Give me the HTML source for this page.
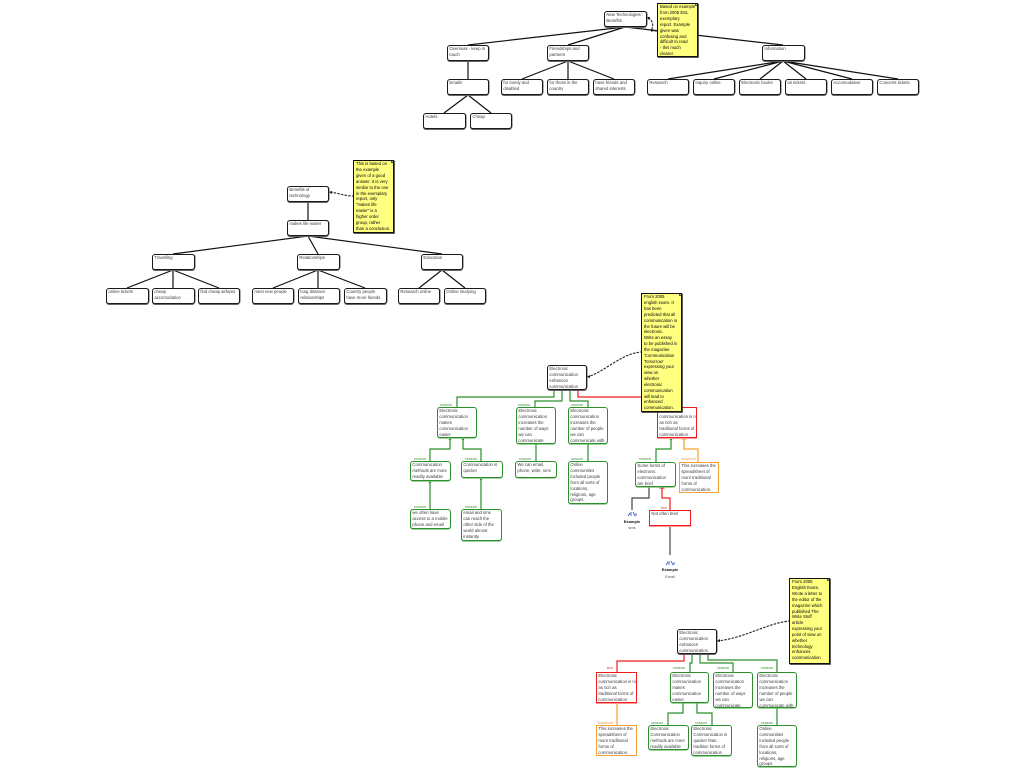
<!DOCTYPE html>
<html>
<head>
<meta charset="utf-8">
<title>Argument maps</title>
<style>
html,body{margin:0;padding:0;background:#fff;width:1024px;height:768px;overflow:hidden}
body{position:relative;font-family:"Liberation Sans",sans-serif}
svg.lines{position:absolute;left:0;top:0;z-index:1}
.n,.r,.g,.o,.y{position:absolute;box-sizing:border-box;font-size:4.25px;line-height:5.85px;color:#3a3a3a;padding:.3px 0 0 1.4px;background:#fff;white-space:nowrap;overflow:hidden;z-index:2}
.n{border:1.2px solid #1a1a1a;border-radius:3px;box-shadow:0 1px 0 #666,.6px 0 0 #777}
.g{border:1.1px solid #2b8f2b;border-radius:3px;box-shadow:0 .8px 0 #85c285}
.r{border:1.2px solid #f01c1c;box-shadow:0 1px 0 #f99}
.o{border:1.2px solid #f5a030}
.y{background:#ffff80;border:1.1px solid #111;box-shadow:.8px .8px 0 #333;padding:.3px 0 0 2px;z-index:3;color:#000;line-height:5.85px}
.y:after{content:"";position:absolute;right:-1px;top:-1px;border-style:solid;border-width:0 3px 3px 0;border-color:transparent #fff #555 transparent}
.l{position:absolute;font-size:4px;line-height:4px;z-index:2;white-space:nowrap}
.lg{color:#3a9a3a}.lr{color:#f03030}.lo{color:#f0a040}
.e{position:absolute;font-size:4px;line-height:5px;z-index:2;text-align:center;width:30px;color:#555}
b{font-weight:normal}
</style>
</head>
<body>
<svg class="lines" width="1024" height="768" viewBox="0 0 1024 768" fill="none">
<g stroke="#111" stroke-width="1.2">
<path d="M625 27L468 45M625 27L568 45M625 27L783 45M468 61V79M568 61L522 79M568 61V79M568 61L614 79M468 95L444 113M468 95L491 113"/>
<path d="M783 61L668 79M783 61L714 79M783 61L760 79M783 61L806 79M783 61L852 79M783 61L898 79"/>
<path d="M308 202V220M308 236L173 254M308 236L318 254M308 236L442 254M173 270L127 288M173 270V288M173 270L219 288M318 270L273 288M318 270V288M318 270L365 288M442 270L419 288M442 270L465 288"/>
</g>
<g stroke="#222" stroke-width="1.1" stroke-dasharray="2.5 1.2">
<path d="M648 18C653 20 654 26 651 31"/>
<path d="M657 31H651"/>
<path d="M330 192C338 193 345 196 353 196"/>
<path d="M587 377C605 372 620 354 641 352"/>
<path d="M717 641C745 638 765 624 789 621"/>
</g>
<g fill="#111">
<path d="M647 17L650 17L649 20Z"/>
<path d="M329 192L332 191L332 194Z"/>
<path d="M587 377L590 375L590 378Z"/>
<path d="M717 641L720 639L720 642Z"/>
</g>
<g stroke="#2b8f2b" stroke-width="1.2">
<path d="M554 389V397H457V407M562 389V401H535V407M570 389V401H588V407"/>
<path d="M450 438V449H430V461M463 438V449H481V461M430 481V509M481 478V509M536 443V461M588 443V461"/>
<path d="M671 438V449H656V462"/>
<path d="M692 653V663H690V672M700 653V663H733V672M708 653V660H777V672"/>
<path d="M683 702V713H668V725M697 702V713H712V725M777 707V725"/>
</g>
<g fill="#2b8f2b">
<path d="M554 389L552.500 391H555.500ZM562 389L560.500 391H563.500ZM570 389L568.500 391H571.500Z"/>
<path d="M450 438L448.500 440H451.500ZM463 438L461.500 440H464.500ZM430 481L428.500 483H431.500ZM481 478L479.500 480H482.500ZM536 443L534.500 445H537.500ZM588 443L586.500 445H589.500ZM671 438L669.500 440H672.500Z"/>
<path d="M692 653L690.500 655H693.500ZM700 653L698.500 655H701.500ZM708 653L706.500 655H709.500ZM683 702L681.500 704H684.500ZM697 702L695.500 704H698.500ZM777 707L775.500 709H778.500Z"/>
</g>
<g stroke="#f01c1c" stroke-width="1.2">
<path d="M578 389V397H677V407"/>
<path d="M662 487V498H670V510"/>
<path d="M684 653V661H617V672"/>
<path d="M575.500 390H580.500M659.500 488H664.500M681.500 654H686.500"/>
</g>
<g stroke="#f5a030" stroke-width="1.2">
<path d="M684 438V449H698V462"/>
<path d="M617 702V725"/>
<path d="M681.500 439H686.500M614.500 703H619.500"/>
</g>
<g stroke="#444" stroke-width="1.2">
<path d="M649 487V498H632V510"/>
<path d="M670 526V555"/>
</g>
<g stroke="#2346b8" stroke-width=".8">
<path d="M628 516L630 513M631 516V512M633 512L635 516M636 516V513"/>
<path d="M666 565L668 562M669 565V561M671 561L673 565M674 565V562"/>
</g>
</svg>

<div class="n" style="left:604px;top:11px;width:43px;height:16px">New Technologies :<br>Benefits</div>
<div class="y" style="left:657px;top:3px;width:41px;height:54px">Based on example<br>from 2005 ESL<br>exemplary<br>report. Example<br>given was<br>confusing and<br>difficult to read<br>- this much<br>clearer.</div>
<div class="n" style="left:447px;top:45px;width:42px;height:16px">Overseas - keep in<br>touch</div>
<div class="n" style="left:547px;top:45px;width:42px;height:16px">Friendships and<br>partners</div>
<div class="n" style="left:762px;top:45px;width:43px;height:16px">Information</div>
<div class="n" style="left:447px;top:79px;width:42px;height:16px">Emails</div>
<div class="n" style="left:501px;top:79px;width:42px;height:16px">for lonely and<br>disabled</div>
<div class="n" style="left:547px;top:79px;width:42px;height:16px">for those in the<br>country</div>
<div class="n" style="left:593px;top:79px;width:42px;height:16px">have friends and<br>shared interests</div>
<div class="n" style="left:647px;top:79px;width:42px;height:16px">Research</div>
<div class="n" style="left:693px;top:79px;width:42px;height:16px">Inquiry online</div>
<div class="n" style="left:739px;top:79px;width:42px;height:16px">Electronic books</div>
<div class="n" style="left:785px;top:79px;width:42px;height:16px">air tickets</div>
<div class="n" style="left:831px;top:79px;width:42px;height:16px">Accomodation</div>
<div class="n" style="left:877px;top:79px;width:42px;height:16px">Concerts tickets</div>
<div class="n" style="left:423px;top:113px;width:43px;height:16px">Hotels</div>
<div class="n" style="left:470px;top:113px;width:42px;height:16px">Cheap</div>

<div class="n" style="left:287px;top:186px;width:42px;height:16px">Benefits of<br>technology</div>
<div class="y" style="left:353px;top:160px;width:41px;height:73px">This is based on<br>the example<br>given of a good<br>answer. It is very<br>similar to the one<br>in the exemplary<br>report, only<br>"makes life<br>easier" is a<br>higher order<br>group, rather<br>than a conclusion.</div>
<div class="n" style="left:287px;top:220px;width:42px;height:16px">makes life easier</div>
<div class="n" style="left:152px;top:254px;width:43px;height:16px">Travelling</div>
<div class="n" style="left:297px;top:254px;width:43px;height:16px">Relationships</div>
<div class="n" style="left:421px;top:254px;width:42px;height:16px">Education</div>
<div class="n" style="left:106px;top:288px;width:43px;height:16px">online tickets</div>
<div class="n" style="left:152px;top:288px;width:43px;height:16px">cheap<br>accomodation</div>
<div class="n" style="left:198px;top:288px;width:42px;height:16px">find cheap airfares</div>
<div class="n" style="left:252px;top:288px;width:42px;height:16px">meet new people</div>
<div class="n" style="left:298px;top:288px;width:42px;height:16px">long distance<br>relationships</div>
<div class="n" style="left:344px;top:288px;width:43px;height:16px">Country people<br>have more friends</div>
<div class="n" style="left:398px;top:288px;width:42px;height:16px">Research online</div>
<div class="n" style="left:444px;top:288px;width:42px;height:16px">Online studying</div>

<div class="n" style="left:547px;top:365px;width:40px;height:25px"><b>Electronic</b><br>communication<br>enhances<br>communication</div>
<div class="y" style="left:641px;top:293px;width:41px;height:119px">From 2005<br>english exam. It<br>has been<br>predicted that all<br>communication in<br>the future will be<br>electronic.<br>Write an essay<br>to be published in<br>the magazine<br>'Communication<br>Tomorrow'<br>expressing your<br>view on<br>whether<br>electronic<br>communication<br>will lead to<br>enhanced<br>communication.</div>
<div class="l lg" style="left:440px;top:403px">reason</div>
<div class="l lg" style="left:518px;top:403px">reason</div>
<div class="l lg" style="left:571px;top:403px">reason</div>
<div class="g" style="left:437px;top:407px;width:40px;height:31px"><b>Electronic</b><br>communication<br>makes<br>communication<br>easier</div>
<div class="g" style="left:516px;top:407px;width:40px;height:37px"><b>Electronic</b><br>communication<br>increases the<br>number of ways<br>we can<br>communicate</div>
<div class="g" style="left:568px;top:407px;width:40px;height:37px"><b>Electronic</b><br>communication<br>increases the<br>number of people<br>we can<br>communicate with</div>
<div class="r" style="left:657px;top:407px;width:40px;height:31px">Electronic<br>communication is not<br>as rich as<br>traditional forms of<br>communication</div>
<div class="l lg" style="left:414px;top:457px">reason</div>
<div class="l lg" style="left:465px;top:457px">reason</div>
<div class="l lg" style="left:519px;top:457px">reason</div>
<div class="l lg" style="left:571px;top:457px">reason</div>
<div class="l lg" style="left:639px;top:457px">reason</div>
<div class="l lo" style="left:681px;top:457px">however</div>
<div class="g" style="left:410px;top:461px;width:41px;height:20px">Communication<br>methods are more<br>readily available</div>
<div class="g" style="left:461px;top:461px;width:42px;height:17px">Communication is<br>quicker</div>
<div class="g" style="left:515px;top:461px;width:42px;height:17px">We can email,<br>phone, write, sms</div>
<div class="g" style="left:568px;top:461px;width:40px;height:43px">Online<br>communities<br>included people<br>from all sorts of<br>locations,<br>religions, age<br>groups.</div>
<div class="g" style="left:635px;top:462px;width:41px;height:25px">Some forms of<br>electronic<br>communication<br>are brief</div>
<div class="o" style="left:679px;top:462px;width:40px;height:31px">This increases the<br>spreadsheet of<br>more traditional<br>forms of<br>communication.</div>
<div class="l lr" style="left:661px;top:506px">but</div>
<div class="l lg" style="left:414px;top:505px">reason</div>
<div class="l lg" style="left:465px;top:505px">reason</div>
<div class="r" style="left:649px;top:510px;width:42px;height:16px">Not often brief</div>
<div class="g" style="left:410px;top:509px;width:41px;height:20px">we often have<br>access to a mobile<br>phone and email</div>
<div class="g" style="left:461px;top:509px;width:41px;height:32px">email and sms<br>can reach the<br>other side of the<br>world almost<br>instantly</div>
<div class="e" style="left:617px;top:519px;color:#111;font-weight:bold">Example</div>
<div class="e" style="left:617px;top:525px">sms</div>
<div class="e" style="left:655px;top:567px;color:#111;font-weight:bold">Example</div>
<div class="e" style="left:655px;top:574px">Email</div>

<div class="y" style="left:789px;top:578px;width:41px;height:86px">From 2005<br>English Exam.<br>Wrote a letter to<br>the editor of the<br>magazine which<br>published The<br>Write Stuff<br>article<br>expressing your<br>point of view on<br>whether<br>technology<br>enhances<br>communication</div>
<div class="n" style="left:677px;top:629px;width:40px;height:25px"><b>Electronic</b><br>communication<br>enhances<br>communication</div>
<div class="l lr" style="left:607px;top:666px">but</div>
<div class="l lg" style="left:673px;top:666px">reason</div>
<div class="l lg" style="left:717px;top:666px">reason</div>
<div class="l lg" style="left:761px;top:666px">reason</div>
<div class="r" style="left:596px;top:672px;width:41px;height:31px">Electronic<br>communication is not<br>as rich as<br>traditional forms of<br>communication</div>
<div class="g" style="left:670px;top:672px;width:39px;height:31px">Electronic<br>communication<br>makes<br>communication<br>easier</div>
<div class="g" style="left:713px;top:672px;width:40px;height:36px">Electronic<br>communication<br>increases the<br>number of ways<br>we can<br>communicate</div>
<div class="g" style="left:757px;top:672px;width:40px;height:36px">Electronic<br>communication<br>increases the<br>number of people<br>we can<br>communicate with</div>
<div class="l lo" style="left:598px;top:721px">however</div>
<div class="l lg" style="left:651px;top:721px">reason</div>
<div class="l lg" style="left:695px;top:721px">reason</div>
<div class="l lg" style="left:761px;top:721px">reason</div>
<div class="o" style="left:596px;top:725px;width:41px;height:31px">This increases the<br>spreadsheet of<br>more traditional<br>forms of<br>communication.</div>
<div class="g" style="left:648px;top:725px;width:41px;height:25px">Electronic<br>Communication<br>methods are more<br>readily available</div>
<div class="g" style="left:691px;top:725px;width:41px;height:31px">Electronic<br>Communication is<br>quicker than<br>tradition forms of<br>communication</div>
<div class="g" style="left:757px;top:725px;width:40px;height:42px">Online<br>communities<br>included people<br>from all sorts of<br>locations,<br>religions, age<br>groups</div>
</body>
</html>
